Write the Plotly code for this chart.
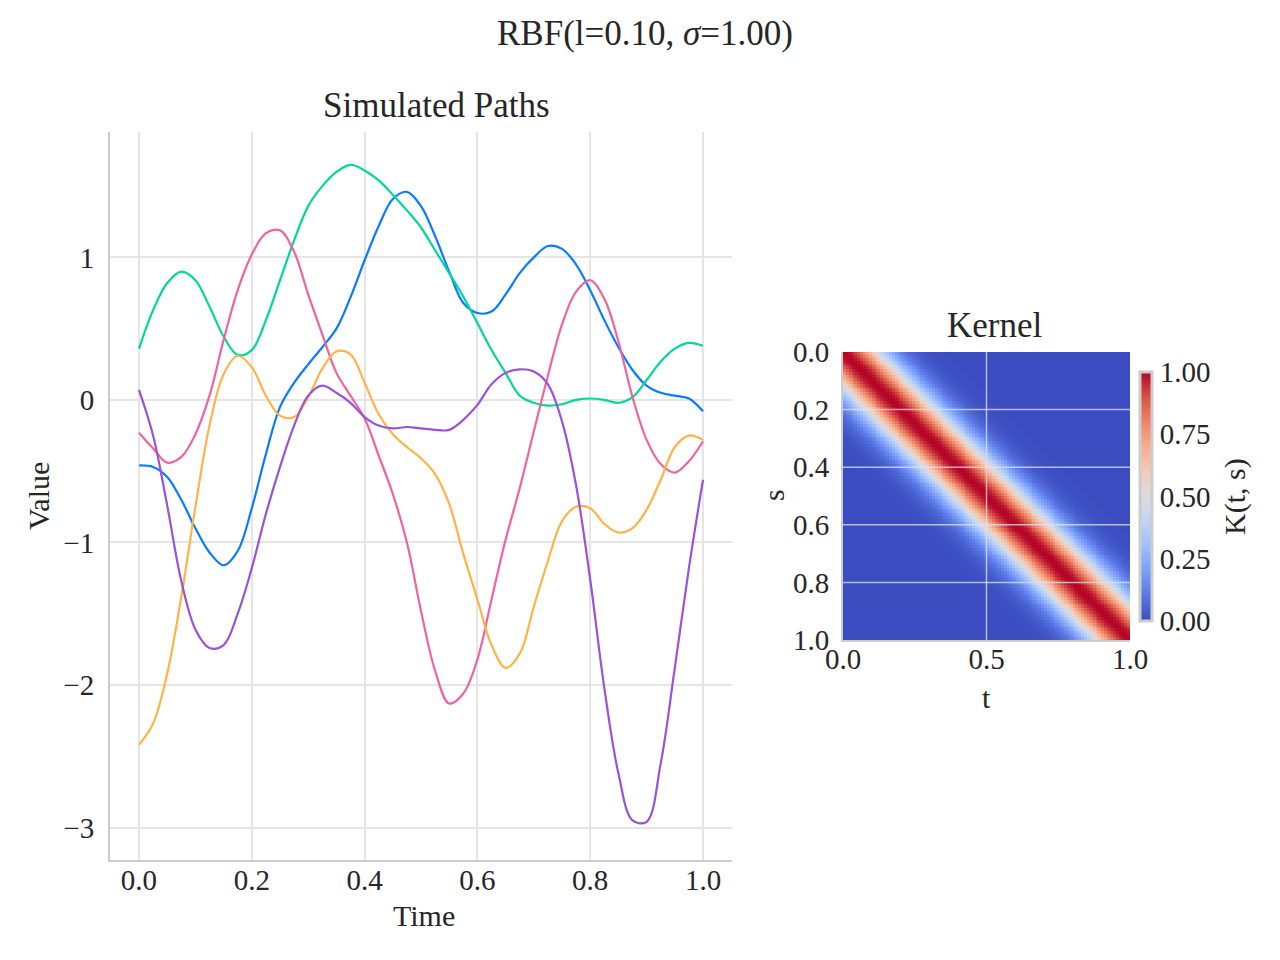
import plotly.graph_objects as go

# ---------------- data ----------------
time = [round(i * 0.025, 3) for i in range(41)]

path_blue = [-0.46, -0.47, -0.54, -0.70, -0.90, -1.07, -1.16, -1.06, -0.76, -0.38,
             -0.05, 0.12, 0.25, 0.37, 0.50, 0.72, 0.98, 1.22, 1.41, 1.46,
             1.36, 1.15, 0.90, 0.68, 0.61, 0.62, 0.74, 0.89, 1.00, 1.08,
             1.06, 0.95, 0.77, 0.56, 0.37, 0.21, 0.10, 0.05, 0.03, 0.01, -0.08]
path_green = [0.36, 0.63, 0.82, 0.90, 0.84, 0.655, 0.445, 0.316, 0.35, 0.56,
              0.84, 1.12, 1.36, 1.50, 1.60, 1.65, 1.61, 1.54, 1.44, 1.33,
              1.21, 1.05, 0.89, 0.725, 0.54, 0.35, 0.19, 0.03, -0.02, -0.04,
              -0.03, 0.0, 0.01, 0.0, -0.02, 0.02, 0.14, 0.27, 0.36, 0.40, 0.38]
path_pink = [-0.23, -0.34, -0.44, -0.40, -0.24, 0.03, 0.42, 0.77, 1.02, 1.17,
             1.19, 1.04, 0.74, 0.46, 0.19, 0.03, -0.13, -0.39, -0.66, -1.00,
             -1.48, -1.90, -2.13, -2.06, -1.82, -1.40, -0.98, -0.62, -0.22, 0.17,
             0.53, 0.76, 0.84, 0.71, 0.41, 0.02, -0.28, -0.45, -0.51, -0.43, -0.29]
path_orange = [-2.42, -2.27, -1.92, -1.38, -0.75, -0.18, 0.18, 0.31, 0.23, 0.03,
               -0.11, -0.12, 0.02, 0.22, 0.34, 0.32, 0.12, -0.10, -0.24, -0.33,
               -0.41, -0.52, -0.73, -1.08, -1.40, -1.72, -1.88, -1.78, -1.45, -1.13,
               -0.85, -0.75, -0.76, -0.87, -0.93, -0.90, -0.77, -0.56, -0.33, -0.25, -0.28]
path_purple = [0.07, -0.25, -0.74, -1.27, -1.61, -1.74, -1.72, -1.50, -1.18, -0.80,
               -0.47, -0.18, 0.03, 0.10, 0.05, -0.02, -0.12, -0.18, -0.20, -0.19,
               -0.20, -0.21, -0.21, -0.14, -0.035, 0.11, 0.19, 0.215, 0.20, 0.11,
               -0.15, -0.60, -1.26, -2.02, -2.62, -2.95, -2.96, -2.55, -1.88, -1.18, -0.56]

paths = [path_blue, path_green, path_pink, path_orange, path_purple]
path_colors = ["#0A7BFF", "#00D89A", "#F062A2", "#FFB347", "#9B52D4"]

# kernel value by lag (in grid steps) on a 100-point grid; zero beyond
kernel_grid_n = 100
kernel_lag_profile = [1.0, 0.995, 0.980, 0.955, 0.922, 0.880, 0.832, 0.779, 0.721, 0.662,
                      0.600, 0.539, 0.480, 0.422, 0.368, 0.317, 0.271, 0.229, 0.191, 0.159,
                      0.130, 0.105, 0.085, 0.067, 0.053, 0.041, 0.032, 0.024, 0.018, 0.014,
                      0.010, 0.0074, 0.0054, 0.0039, 0.0027, 0.0019]

x_ticks_left = [0.0, 0.2, 0.4, 0.6, 0.8, 1.0]
y_ticks_left = [-3, -2, -1, 0, 1]
y_ticktext_left = ["\u22123", "\u22122", "\u22121", "0", "1"]
x_ticks_kernel = [0.0, 0.5, 1.0]
y_ticks_kernel = [0.0, 0.2, 0.4, 0.6, 0.8, 1.0]
cbar_ticks = [0.0, 0.25, 0.5, 0.75, 1.0]

# ---------------- build ----------------
K = [[(kernel_lag_profile[abs(i - j)] if abs(i - j) < len(kernel_lag_profile) else 0.0)
      for j in range(kernel_grid_n)] for i in range(kernel_grid_n)]

coolwarm = [
    [0.0, "#3b4cc0"], [0.1, "#5977e3"], [0.2, "#7b9ff9"], [0.3, "#9ebeff"],
    [0.4, "#c0d4f5"], [0.5, "#dddcdc"], [0.6, "#f2cbb7"], [0.7, "#f7ac8e"],
    [0.8, "#ee8468"], [0.9, "#d65244"], [1.0, "#b40426"],
]

FONT = "Liberation Serif"
TXT = "#262626"
W, H = 1280, 960
TICK = 29

fig = go.Figure()
for p, c in zip(paths, path_colors):
    fig.add_trace(go.Scatter(x=time, y=p, mode="lines", line=dict(color=c, width=2.2, shape="spline", smoothing=1.0),
                             xaxis="x", yaxis="y", showlegend=False, hoverinfo="skip"))

fig.add_trace(go.Heatmap(z=K, x0=0.5 / kernel_grid_n, dx=1.0 / kernel_grid_n,
                         y0=0.5 / kernel_grid_n, dy=1.0 / kernel_grid_n,
                         colorscale=coolwarm, zmin=0, zmax=1, xaxis="x2", yaxis="y2",
                         hoverinfo="skip",
                         colorbar=dict(x=1140 / W, xanchor="left", xref="paper", xpad=0, ypad=0,
                                       y=1 - 496.5 / H, yanchor="middle", yref="paper",
                                       len=249 / H, lenmode="fraction", thickness=12,
                                       outlinewidth=3, outlinecolor="#cccccc",
                                       tickvals=cbar_ticks, ticktext=[f"{v:.2f}" for v in cbar_ticks],
                                       ticks="", ticklabelposition="outside",
                                       tickfont=dict(family=FONT, size=TICK, color=TXT))))

axis_common = dict(showline=True, linecolor="#cccccc", linewidth=2, mirror=False, automargin=False,
                   zeroline=False, ticks="", tickfont=dict(family=FONT, size=TICK, color=TXT))

fig.update_layout(
    width=W, height=H, margin=dict(l=0, r=0, t=0, b=0, pad=0, autoexpand=False),
    paper_bgcolor="white", plot_bgcolor="white",
    xaxis=dict(domain=[110 / W, 732 / W], range=[-0.0514, 1.0514], tickvals=x_ticks_left,
               ticktext=[f"{v:.1f}" for v in x_ticks_left], showgrid=True, gridcolor="#e5e5e5",
               gridwidth=1.5, anchor="y", ticklabelstandoff=-7, **axis_common),
    yaxis=dict(domain=[100 / H, 828 / H], range=[-3.228, 1.88], tickvals=y_ticks_left,
               ticktext=y_ticktext_left, showgrid=True, gridcolor="#e5e5e5", gridwidth=1.5,
               anchor="x", ticklabelstandoff=8, **axis_common),
    xaxis2=dict(domain=[843 / W, 1130 / W], range=[0, 1], tickvals=x_ticks_kernel,
                ticktext=[f"{v:.1f}" for v in x_ticks_kernel], showgrid=False, anchor="y2",
                ticklabelstandoff=-8, **axis_common),
    yaxis2=dict(domain=[320 / H, 608 / H], range=[1, 0], tickvals=y_ticks_kernel,
                ticktext=[f"{v:.1f}" for v in y_ticks_kernel], showgrid=False, anchor="x2",
                ticklabelstandoff=6, **axis_common),
    title=dict(text="RBF(l=0.10, <i>σ</i>=1.00)", x=645 / W, xanchor="center",
               y=1 - 33 / H, yanchor="middle", font=dict(family=FONT, size=35, color=TXT)),
    hovermode=False,
)

# grid lines of the kernel panel drawn above the image
shapes = []
for v in x_ticks_kernel[1:-1]:
    shapes.append(dict(type="line", xref="x2", yref="y2", x0=v, x1=v, y0=0, y1=1,
                       line=dict(color="rgba(225,225,235,0.75)", width=1.5), layer="above"))
for v in y_ticks_kernel[1:-1]:
    shapes.append(dict(type="line", xref="x2", yref="y2", x0=0, x1=1, y0=v, y1=v,
                       line=dict(color="rgba(225,225,235,0.75)", width=1.5), layer="above"))
fig.update_layout(shapes=shapes)

def ann(text, x, y, size, angle=0):
    return dict(text=text, x=x / W, y=1 - y / H, xref="paper", yref="paper", showarrow=False,
                xanchor="center", yanchor="middle", textangle=angle,
                font=dict(family=FONT, size=size, color=TXT))

fig.update_layout(annotations=[
    ann("Simulated Paths", 436, 105, 35),
    ann("Kernel", 995, 325, 35),
    ann("Time", 424, 915, 30),
    ann("Value", 38, 496, 30, -90),
    ann("t", 986, 697, 30),
    ann("s", 773, 495, 30, -90),
    ann("K(t, s)", 1235, 497, 30, -90),
])

fig.write_html("out.html")
